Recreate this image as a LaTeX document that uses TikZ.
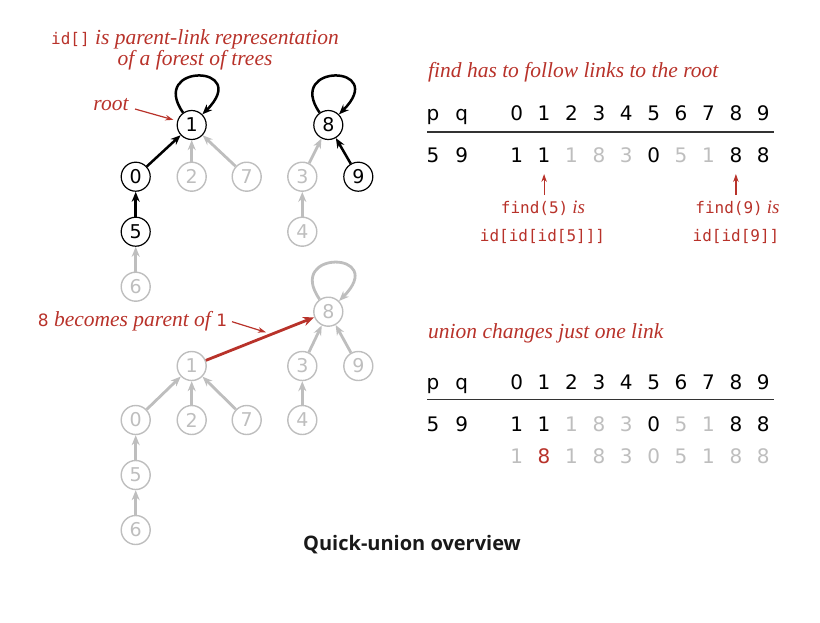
\documentclass[tikz,border=0pt]{standalone}
\usepackage{fontspec}
\usetikzlibrary{arrows.meta}
\setmainfont{Liberation Serif}
\newfontfamily\numf{DejaVu Sans}
\newfontfamily\capf{Open Sans}
\newfontfamily\monof{DejaVu Sans Mono}
\definecolor{bred}{HTML}{B8322A}
\definecolor{lgray}{HTML}{BEBEBE}
\begin{document}
\begin{tikzpicture}[x=1pt,y=-1pt,
  nd/.style={circle,draw=black,line width=1.2pt,minimum size=29pt,inner sep=0pt,font=\numf\fontsize{19}{19}\selectfont},
  gn/.style={nd,draw=lgray,text=lgray,line width=1.4pt},
  bedge/.style={line width=2.5pt,draw=black,-{Stealth[length=10pt,width=8pt]}},
  gedge/.style={bedge,line width=2.8pt,draw=lgray},
  redge/.style={line width=2.8pt,draw=bred,-{Stealth[length=11pt,width=9pt]}},
  rthin/.style={line width=1.2pt,draw=bred,-{Stealth[length=8pt,width=5.5pt]}},
  lab/.style={text=bred,font=\itshape\fontsize{21.5}{24}\selectfont,inner sep=0pt},
  mono/.style={text=bred,font=\fontsize{16}{19}\selectfont,inner sep=0pt},
  cell/.style={anchor=base,inner sep=0pt,font=\numf\fontsize{20}{22}\selectfont},
  gcell/.style={cell,text=lgray},
  rcell/.style={cell,text=bred}
]
\useasboundingbox (0,0) rectangle (820,622);

% ---------- top forest ----------
\node[nd] (t1) at (191.7,125) {1};
\node[nd] (t0) at (135.7,176.7) {0};
\node[gn] (t2) at (191.7,176.7) {2};
\node[gn] (t7) at (246.7,176.7) {7};
\node[nd] (t5) at (135.7,231.7) {5};
\node[gn] (t6) at (135.7,286.7) {6};
\node[nd] (t8) at (328.3,125) {8};
\node[gn] (t3) at (302.3,176.7) {3};
\node[nd] (t9) at (358.3,176.7) {9};
\node[gn] (t4) at (302.3,231.7) {4};

\draw[bedge] (t1.125) .. controls +(-35,-50) and +(50,-50) .. (t1.45);
\draw[bedge] (t8.125) .. controls +(-35,-50) and +(50,-50) .. (t8.45);
\draw[bedge] (t0) -- (t1);
\draw[gedge] (t2) -- (t1);
\draw[gedge] (t7) -- (t1);
\draw[bedge] (t5) -- (t0);
\draw[gedge] (t6) -- (t5);
\draw[gedge] (t3) -- (t8);
\draw[bedge] (t9) -- (t8);
\draw[gedge] (t4) -- (t3);

% ---------- bottom forest ----------
\node[gn] (b8) at (328.3,311.7) {8};
\node[gn] (b1) at (191.7,366) {1};
\node[gn] (b3) at (302.3,366) {3};
\node[gn] (b9) at (358.3,366) {9};
\node[gn] (b0) at (135.7,420) {0};
\node[gn] (b2) at (191.7,420) {2};
\node[gn] (b7) at (246.7,420) {7};
\node[gn] (b4) at (302.3,420) {4};
\node[gn] (b5) at (135.7,475) {5};
\node[gn] (b6) at (135.7,530) {6};

\draw[gedge] (b8.125) .. controls +(-35,-50) and +(50,-50) .. (b8.45);
\draw[redge] (b1) -- (b8);
\draw[gedge] (b3) -- (b8);
\draw[gedge] (b9) -- (b8);
\draw[gedge] (b0) -- (b1);
\draw[gedge] (b2) -- (b1);
\draw[gedge] (b7) -- (b1);
\draw[gedge] (b4) -- (b3);
\draw[gedge] (b5) -- (b0);
\draw[gedge] (b6) -- (b5);

% ---------- labels on the left ----------
\node[lab] (l1) at (195,39) {{\upshape\monof\fontsize{16}{19}\selectfont id[]} is parent-link representation};
\node[lab] (l2) at (195,60) {of a forest of trees};
\node[lab] (root) at (111,105) {root};
\coordinate (rootA) at (135,109);
\draw[rthin, shorten >=4pt] (rootA) -- (t1);
\node[lab] (becomes) at (132.5,321.7) {{\upshape\numf\fontsize{17}{19}\selectfont 8} becomes parent of {\upshape\numf\fontsize{17}{19}\selectfont 1}};
\coordinate (becA) at (232,321.7);
\coordinate (becB) at (266,332.3);
\draw[rthin] (becA) -- (becB);

% ---------- table 1 ----------
\node[lab,anchor=west] (tt1) at (428,72) {find has to follow links to the root};
\foreach \c/\v [count=\i from 0] in {516.7/0,544.1/1,571.5/2,598.9/3,626.3/4,653.7/5,681.1/6,708.5/7,735.9/8,763.3/9}{
  \node[cell] (h\i) at (\c,120.5) {\v};
  \node[cell] (hh\i) at (\c,389) {\v};
}
\node[cell] (hp) at (433,120.5) {p};
\node[cell] (hq) at (461.7,120.5) {q};
\draw[line width=1.6pt,draw=black!80] (427,132) -- (774,132);
\node[cell] (rp) at (433,162.5) {5};
\node[cell] (rq) at (461.7,162.5) {9};
\node[cell]  (r0) at (516.7,162.5) {1};
\node[cell]  (r1) at (544.1,162.5) {1};
\node[gcell] (r2) at (571.5,162.5) {1};
\node[gcell] (r3) at (598.9,162.5) {8};
\node[gcell] (r4) at (626.3,162.5) {3};
\node[cell]  (r5) at (653.7,162.5) {0};
\node[gcell] (r6) at (681.1,162.5) {5};
\node[gcell] (r7) at (708.5,162.5) {1};
\node[cell]  (r8) at (735.9,162.5) {8};
\node[cell]  (r9) at (763.3,162.5) {8};
\coordinate (a5s) at (544.1,195);
\coordinate (a5e) at (544.1,174);
\coordinate (a9s) at (735.9,195);
\coordinate (a9e) at (735.9,174);
\draw[rthin] (a5s) -- (a5e);
\draw[rthin] (a9s) -- (a9e);
\node[mono] (f5) at (543,208.3) {{\monof find(5)} \itshape\fontsize{19}{21}\selectfont is};
\node[mono] (i5) at (542.5,236.7) {\monof id[id[id[5]]]};
\node[mono] (f9) at (737.5,208.3) {{\monof find(9)} \itshape\fontsize{19}{21}\selectfont is};
\node[mono] (i9) at (736,236.7) {\monof id[id[9]]};

% ---------- table 2 ----------
\node[lab,anchor=west] (tt2) at (428,333) {union changes just one link};
\node[cell] (hp2) at (433,389) {p};
\node[cell] (hq2) at (461.7,389) {q};
\draw[line width=1.6pt,draw=black!80] (427,399.3) -- (774,399.3);
\node[cell] (sp) at (433,431) {5};
\node[cell] (sq) at (461.7,431) {9};
\node[cell]  (s0) at (516.7,431) {1};
\node[cell]  (s1) at (544.1,431) {1};
\node[gcell] (s2) at (571.5,431) {1};
\node[gcell] (s3) at (598.9,431) {8};
\node[gcell] (s4) at (626.3,431) {3};
\node[cell]  (s5) at (653.7,431) {0};
\node[gcell] (s6) at (681.1,431) {5};
\node[gcell] (s7) at (708.5,431) {1};
\node[cell]  (s8) at (735.9,431) {8};
\node[cell]  (s9) at (763.3,431) {8};
\foreach \c/\v [count=\i from 0] in {516.7/1,544.1/8,571.5/1,598.9/8,626.3/3,653.7/0,681.1/5,708.5/1,735.9/8,763.3/8}{
  \ifnum\i=1
    \node[rcell] (u\i) at (\c,463) {\v};
  \else
    \node[gcell] (u\i) at (\c,463) {\v};
  \fi
}

% ---------- caption ----------
\node[font=\capf\bfseries\fontsize{20}{23}\selectfont,text=black!90,inner sep=0pt] (cap) at (412,545) {Quick-union overview};
\end{tikzpicture}
\end{document}
